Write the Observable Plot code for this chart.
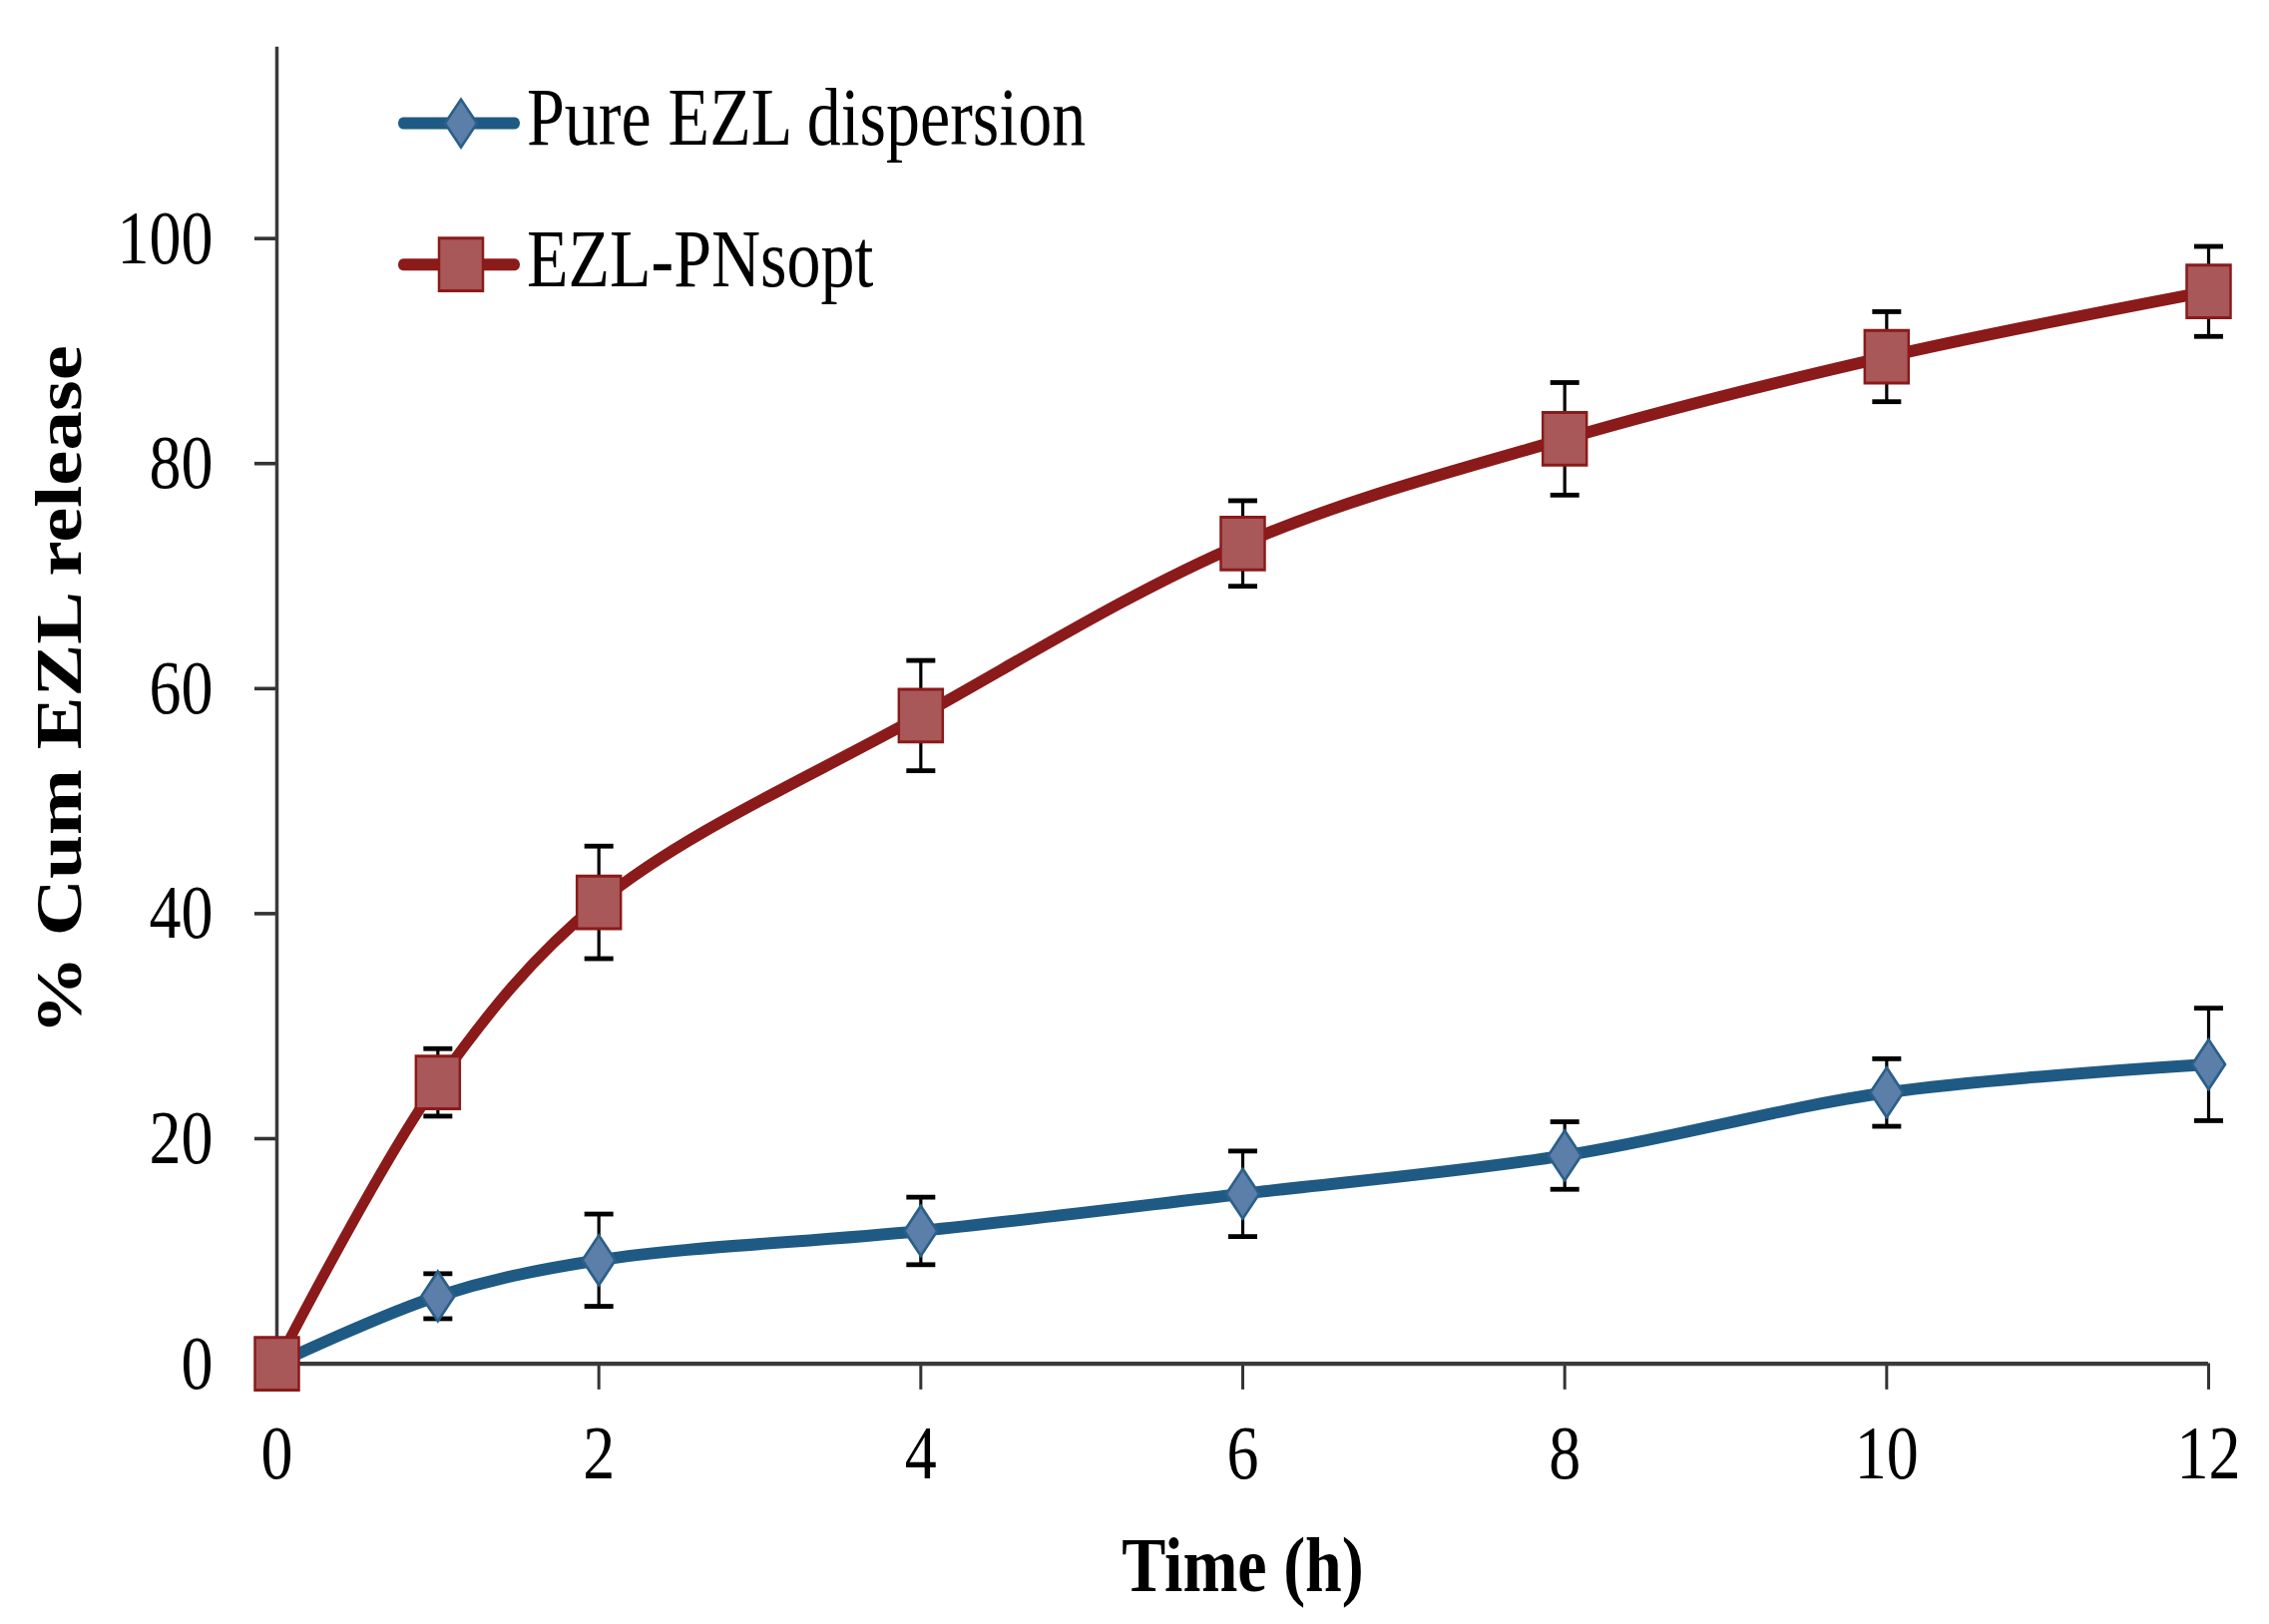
<!DOCTYPE html>
<html>
<head>
<meta charset="utf-8">
<script src="https://cdn.jsdelivr.net/npm/d3@7"></script>
<script src="https://cdn.jsdelivr.net/npm/@observablehq/plot@0.6"></script>
<style>
  html, body { margin: 0; padding: 0; background: white; }
  #chart svg { display: block; }
</style>
</head>
<body>
<div id="chart"></div>
<script>
// ---- data ----
const timeH = [0, 1, 2, 4, 6, 8, 10, 12];
const pureEZL = [0, 6.0, 9.2, 11.8, 15.1, 18.5, 24.1, 26.6];
const pureEZLsd = [0, 2.0, 4.1, 3.0, 3.8, 3.0, 3.0, 5.0];
const ezlPNsopt = [0, 25.0, 41.0, 57.6, 72.9, 82.2, 89.5, 95.3];
const ezlPNsoptSd = [0, 3.0, 5.0, 4.9, 3.8, 5.0, 4.0, 4.0];
const seriesNames = ["Pure EZL dispersion", "EZL-PNsopt"];
const xTicks = [0, 2, 4, 6, 8, 10, 12];
const yTicks = [0, 20, 40, 60, 80, 100];
const xTitle = "Time (h)";
const yTitle = "% Cum EZL release";

// ---- styling ----
const W = 2274, H = 1628, STRETCH = 1.2;
const BH = Math.round(H / STRETCH);
const blueLine = "#1f5a84", blueFill = "#5b7fa8", blueEdge = "#2a5f8a";
const redLine = "#8b1a1a", redFill = "#a85858", redEdge = "#8b1a1a";
const serif = "'Liberation Serif', 'Times New Roman', serif";

const rowsPure = timeH.map((t, i) => ({t, v: pureEZL[i], e: pureEZLsd[i]}));
const rowsOpt = timeH.map((t, i) => ({t, v: ezlPNsopt[i], e: ezlPNsoptSd[i]}));

const diamondSym = {draw(ctx, size) { const r = Math.sqrt(size / Math.PI), h = r * 1.26; ctx.moveTo(0, -h); ctx.lineTo(r, 0); ctx.lineTo(0, h); ctx.lineTo(-r, 0); ctx.closePath(); }};
const squareSym = {draw(ctx, size) { const r = Math.sqrt(size / Math.PI); ctx.moveTo(-r, -r); ctx.lineTo(r, -r); ctx.lineTo(r, r); ctx.lineTo(-r, r); ctx.closePath(); }};
const capSym = {draw(ctx, size) { const r = Math.sqrt(size / Math.PI); ctx.moveTo(-r, 0); ctx.lineTo(r, 0); }};

function seriesMarks(rows, line, fill, edge, sym, r) {
  const withErr = rows.filter(d => d.e > 0);
  return [
    Plot.line(rows, {x: "t", y: "v", stroke: line, strokeWidth: 10, curve: "catmull-rom"}),
    Plot.ruleX(withErr, {x: "t", y1: d => d.v - d.e, y2: d => d.v + d.e, stroke: "black", strokeWidth: 3.2}),
    Plot.dot(withErr, {x: "t", y: d => d.v + d.e, symbol: capSym, r: 14.5, stroke: "black", strokeWidth: 4, fill: "none"}),
    Plot.dot(withErr, {x: "t", y: d => d.v - d.e, symbol: capSym, r: 14.5, stroke: "black", strokeWidth: 4, fill: "none"}),
    Plot.dot(rows, {x: "t", y: "v", symbol: sym, r, fill, stroke: edge, strokeWidth: 2.5})
  ];
}

const chart = Plot.plot({
  width: W,
  height: BH,
  marginLeft: 277,
  marginRight: 61,
  marginTop: 39,
  marginBottom: BH - 1139,
  style: {fontFamily: serif, fontSize: "64px", color: "black", background: "white", overflow: "visible"},
  x: {domain: [0, 12]},
  y: {domain: [0, 117]},
  marks: [
    Plot.axisX({ticks: xTicks, tickSize: 22, tickPadding: 28, stroke: "#333", strokeWidth: 3, label: null, fontSize: 64}),
    Plot.axisY({ticks: yTicks, tickSize: 22, tickPadding: 42, stroke: "#333", strokeWidth: 3, label: null, fontSize: 64}),
    Plot.ruleY([0], {stroke: "#3a3a3a", strokeWidth: 3.5}),
    Plot.ruleX([0], {stroke: "#3a3a3a", strokeWidth: 3.5}),
    Plot.text([xTitle], {frameAnchor: "bottom", text: d => d, dy: 143, lineAnchor: "top", textAnchor: "middle", fontWeight: "bold", fontSize: 66}),
    Plot.text([yTitle], {frameAnchor: "left", text: d => d, dx: -218, dy: -13, rotate: -90, lineAnchor: "middle", textAnchor: "middle", fontWeight: "bold", fontSize: 66}),
    ...seriesMarks(rowsPure, blueLine, blueFill, blueEdge, diamondSym, 16.5),
    ...seriesMarks(rowsOpt, redLine, redFill, redEdge, squareSym, 22)
  ]
});

// stretch vertically like the reference picture
chart.setAttribute("viewBox", `0 0 ${W} ${BH}`);
chart.setAttribute("preserveAspectRatio", "none");
chart.setAttribute("width", W);
chart.setAttribute("height", H);
chart.style.width = W + "px";
chart.style.height = H + "px";
chart.style.maxWidth = "none";

// legend
const svg = d3.select(chart);
const leg = svg.append("g").attr("class", "legend");
const legendItems = [
  {name: seriesNames[0], y: 103, line: blueLine, fill: blueFill, edge: blueEdge, kind: "diamond"},
  {name: seriesNames[1], y: 221, line: redLine, fill: redFill, edge: redEdge, kind: "square"}
];
legendItems.forEach(it => {
  const g = leg.append("g");
  g.append("line").attr("x1", 404).attr("x2", 516).attr("y1", it.y).attr("y2", it.y)
    .attr("stroke", it.line).attr("stroke-width", 10).attr("stroke-linecap", "round");
  if (it.kind === "diamond") {
    g.append("path").attr("d", `M462,${it.y - 20}L478,${it.y}L462,${it.y + 20}L446,${it.y}Z`)
      .attr("fill", it.fill).attr("stroke", it.edge).attr("stroke-width", 2.5);
  } else {
    g.append("rect").attr("x", 440).attr("y", it.y - 22).attr("width", 44).attr("height", 44)
      .attr("fill", it.fill).attr("stroke", it.edge).attr("stroke-width", 2.5);
  }
  g.append("text").attr("x", 528).attr("y", it.y + 18).text(it.name)
    .attr("text-anchor", "start")
    .attr("font-family", serif).attr("font-size", 68).attr("fill", "black");
});

document.getElementById("chart").appendChild(chart);
</script>
</body>
</html>
